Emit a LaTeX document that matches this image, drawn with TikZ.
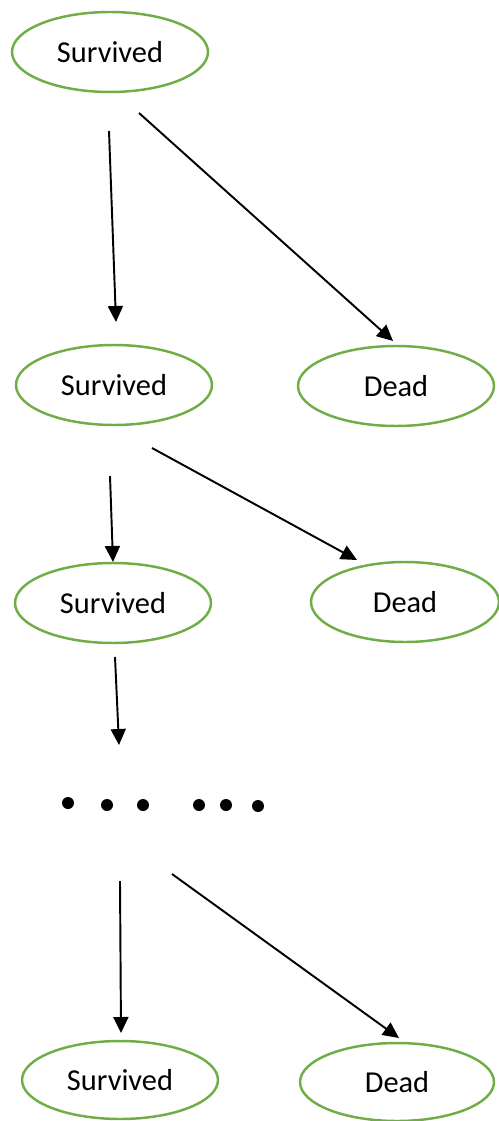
\documentclass[tikz,border=0pt]{standalone}
\usepackage{fontspec}
\setmainfont{Carlito}
\usepackage{tikz}
\usetikzlibrary{shapes.geometric, arrows.meta, positioning, calc}
\definecolor{ovalgreen}{RGB}{112,173,71}

\begin{document}
\begin{tikzpicture}[
    x=0.02cm, y=-0.02cm,
    state/.style={ellipse, draw=ovalgreen, line width=1.4pt,
        minimum width=3.92cm, minimum height=1.6cm, inner sep=0pt,
        align=center, font=\fontsize{17.3}{20}\selectfont},
    arrow/.style={-{Triangle[length=0.32cm, width=0.3cm]}, line width=1.1pt},
    dot/.style={circle, fill=black, inner sep=0pt, minimum size=0.24cm}
]
\useasboundingbox (0,0) rectangle (499,1121);
% states
\node[state] (s1) at (110,52) {Survived};
\node[state] (s2) at (114,385) {Survived};
\node[state] (d2) at (396,386) {Dead};
\node[state] (s3) at (113,603) {Survived};
\node[state, minimum width=3.76cm] (d3) at (405,602) {Dead};
\node[state, minimum height=1.56cm] (s4) at (120,1080) {Survived};
\node[state, minimum width=3.88cm, minimum height=1.56cm] (d4) at (397,1082) {Dead};
% dots
\foreach \i/\x/\y in {1/68/803, 2/107/805, 3/143/805, 4/199/805, 5/226/805, 6/258/806}
    \node[dot] (dot\i) at (\x,\y) {};
% arrow ends
\coordinate (a1s) at (109,131);  \coordinate (a1e) at (116,322);
\coordinate (a2s) at (139,113);  \coordinate (a2e) at (393,341);
\coordinate (a3s) at (110,476);  \coordinate (a3e) at (113,562);
\coordinate (a4s) at (152,448);  \coordinate (a4e) at (357,560);
\coordinate (a5s) at (115,657);  \coordinate (a5e) at (119,745);
\coordinate (a6s) at (120,881);  \coordinate (a6e) at (121,1033);
\coordinate (a7s) at (172,874);  \coordinate (a7e) at (399,1038);
\draw[arrow] (a1s) -- (a1e);
\draw[arrow] (a2s) -- (a2e);
\draw[arrow] (a3s) -- (a3e);
\draw[arrow] (a4s) -- (a4e);
\draw[arrow] (a5s) -- (a5e);
\draw[arrow] (a6s) -- (a6e);
\draw[arrow] (a7s) -- (a7e);
\end{tikzpicture}
\end{document}
